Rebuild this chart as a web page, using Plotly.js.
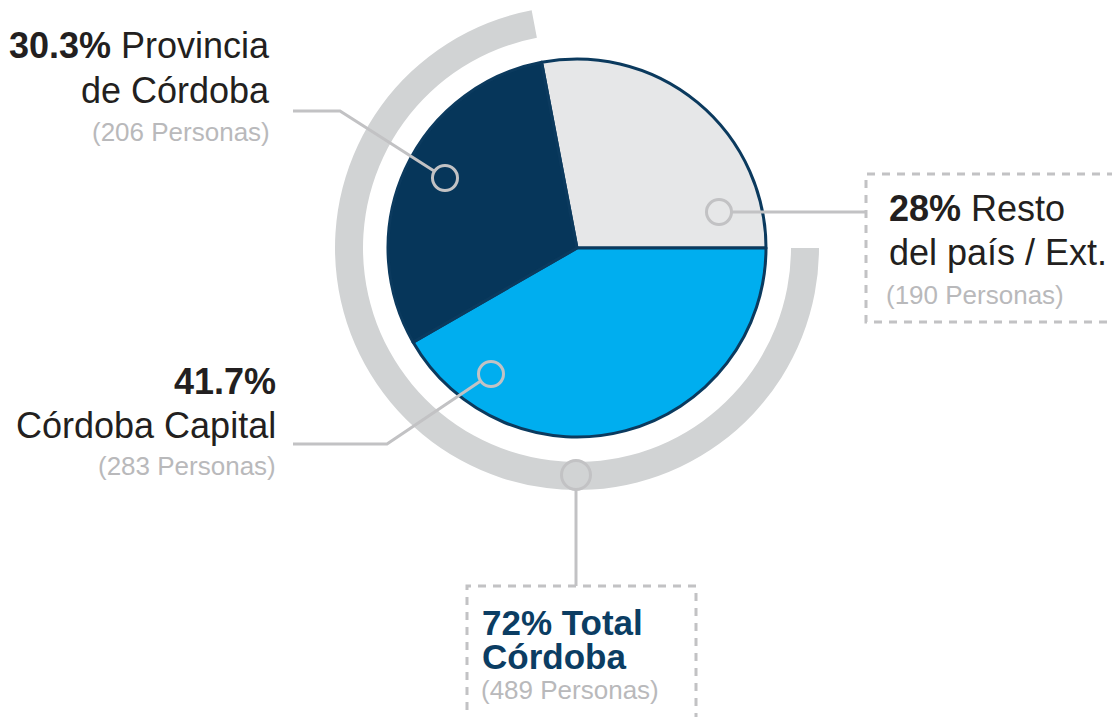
<!DOCTYPE html>
<html>
<head>
<meta charset="utf-8">
<script src="https://cdn.plot.ly/plotly-3.0.1.min.js"></script>
<style>html,body{margin:0;padding:0;background:#fff;}#chart{width:1112px;height:717px;}</style>
</head>
<body>
<div id="chart"></div>
<script>
// ---- data ----
const categories = ['Resto del país / Ext.', 'Córdoba Capital', 'Provincia de Córdoba'];
const shares = [28, 41.7, 30.3];
const personas = [190, 283, 206];
const labelLine1 = ['Resto', '', 'Provincia'];
const labelLine2 = ['del país / Ext.', 'Córdoba Capital', 'de Córdoba'];
const totalName = ['Total', 'Córdoba'];
const totalShare = 72;
const totalPersonas = 489;
const ringValues = [shares[0], totalShare];

// ---- styles / layout constants ----
const W = 1112, H = 717;
const sliceColors = ['#e6e7e8', '#00aeef', '#06365a'];
const borderColor = '#0b3a5e';
const ringColor = '#d1d3d4';
const leadColor = '#c2c2c4';
const darkText = '#231f20';
const greyText = '#b9b9bb';
const navyText = '#0b3d63';
const FONT = 'Liberation Sans, Arial, Helvetica, sans-serif';
const CX = 577, CY = 248, R = 189, RING_OUT = 242, RING_IN = 214;

const px = x => x / W;
const py = y => 1 - y / H;
const sum = shares.reduce((a, b) => a + b, 0);
const rotation = 90 - 360 * shares[0] / sum;

const pie = {
  type: 'pie', values: shares, labels: categories, sort: false, direction: 'clockwise',
  rotation: rotation, textinfo: 'none', hoverinfo: 'label+percent', showlegend: false,
  marker: {colors: sliceColors, line: {color: borderColor, width: 3}},
  domain: {x: [px(CX - R), px(CX + R)], y: [py(CY + R), py(CY - R)]}
};
const ring = {
  type: 'pie', values: ringValues, labels: ['Resto', 'Total Córdoba'], sort: false, direction: 'clockwise',
  rotation: rotation, textinfo: 'none', hoverinfo: 'skip', showlegend: false, hole: RING_IN / RING_OUT,
  marker: {colors: ['rgba(0,0,0,0)', ringColor], line: {width: 0}},
  domain: {x: [px(CX - RING_OUT), px(CX + RING_OUT)], y: [py(CY + RING_OUT), py(CY - RING_OUT)]}
};

function circle(cx, cy, r) {
  return {type: 'circle', xref: 'paper', yref: 'paper', x0: px(cx - r), x1: px(cx + r), y0: py(cy + r), y1: py(cy - r),
    line: {color: leadColor, width: 3}, fillcolor: 'rgba(0,0,0,0)', layer: 'above'};
}
function poly(pts, dash) {
  const d = pts.map((p, i) => (i ? 'L' : 'M') + px(p[0]) + ',' + py(p[1])).join(' ');
  return {type: 'path', xref: 'paper', yref: 'paper', path: d, line: {color: leadColor, width: 3, dash: dash || 'solid'}, layer: 'above'};
}
function edge(from, c, r) { // point on circle edge toward 'from'
  const dx = from[0] - c[0], dy = from[1] - c[1], L = Math.hypot(dx, dy);
  return [c[0] + dx / L * r, c[1] + dy / L * r];
}
const cr = 12.5;
const cNavy = [445, 178], cGrey = [719, 212], cBlue = [491, 374], cRing = [576, 475];
const shapes = [
  poly([[293, 111], [340, 111], edge([340, 111], cNavy, cr)]),
  circle(cNavy[0], cNavy[1], cr),
  poly([[cGrey[0] + cr, cGrey[1]], [866, cGrey[1]]]),
  circle(cGrey[0], cGrey[1], cr),
  poly([[293, 444], [387, 444], edge([387, 444], cBlue, cr)]),
  circle(cBlue[0], cBlue[1], cr),
  poly([[cRing[0], cRing[1] + 14.5], [cRing[0], 586]]),
  circle(cRing[0], cRing[1], 14.5),
  poly([[1130, 174], [866, 174], [866, 322], [1130, 322]], '8px,7px'),
  poly([[467, 740], [467, 586], [696, 586], [696, 740]], '8px,7px')
];

function ann(text, x, y, anchor, size, color) {
  return {text: text, xref: 'paper', yref: 'paper', x: px(x), y: py(y), xanchor: anchor, yanchor: 'middle',
    showarrow: false, font: {family: FONT, size: size, color: color}, align: anchor, borderpad: 0};
}
const MAIN = 36, SUB = 26;
const annotations = [
  ann('<b>' + shares[2] + '%</b> ' + labelLine1[2], 271, 45, 'right', MAIN, darkText),
  ann(labelLine2[2], 271, 90, 'right', MAIN, darkText),
  ann('(' + personas[2] + ' Personas)', 271, 132, 'right', SUB, greyText),
  ann('<b>' + shares[1] + '%</b>', 277, 382, 'right', MAIN, darkText),
  ann(labelLine2[1], 277, 425, 'right', MAIN, darkText),
  ann('(' + personas[1] + ' Personas)', 277, 466, 'right', SUB, greyText),
  ann('<b>' + shares[0] + '%</b> ' + labelLine1[0], 888, 209, 'left', MAIN, darkText),
  ann(labelLine2[0], 888, 252, 'left', MAIN, darkText),
  ann('(' + personas[0] + ' Personas)', 885, 295, 'left', SUB, greyText),
  ann('<b>' + totalShare + '% ' + totalName[0] + '</b>', 481, 622, 'left', 35, navyText),
  ann('<b>' + totalName[1] + '</b>', 481, 656, 'left', 35, navyText),
  ann('(' + totalPersonas + ' Personas)', 480, 690, 'left', SUB, greyText)
];

Plotly.newPlot('chart', [ring, pie], {
  width: W, height: H, margin: {l: 0, r: 0, t: 0, b: 0},
  paper_bgcolor: '#ffffff', plot_bgcolor: '#ffffff', showlegend: false,
  shapes: shapes, annotations: annotations, font: {family: FONT}
}, {displayModeBar: false, staticPlot: true});
</script>
</body>
</html>
